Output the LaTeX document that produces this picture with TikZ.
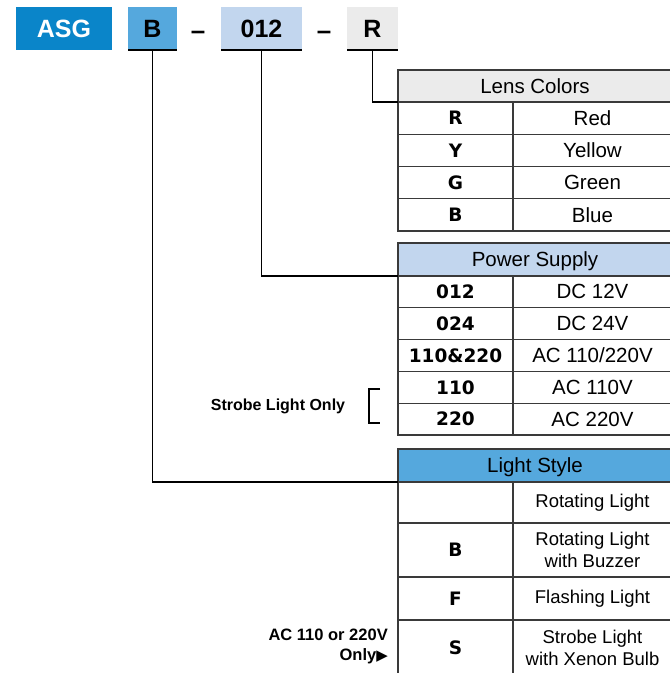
\documentclass[tikz,border=0pt]{standalone}
\usepackage{fontspec}
\setmainfont{Liberation Sans}
\newfontfamily\codefont{DejaVu Sans}
\newfontfamily\symfont{DejaVu Sans}
\definecolor{asgblue}{HTML}{0A85C9}
\definecolor{midblue}{HTML}{55A8DD}
\definecolor{paleblue}{HTML}{C2D6EE}
\definecolor{palegray}{HTML}{EBEBEB}
\definecolor{gridgray}{HTML}{3A3A3A}
\newcommand\fs[1]{\fontsize{#1pt}{\dimexpr #1pt*23/20\relax}\selectfont}
\tikzset{
  hbox/.style={rectangle, inner sep=0pt, outer sep=0pt, anchor=north west, font=\fs{25}\bfseries},
  cell/.style={rectangle, draw=gridgray, line width=1.2pt, inner sep=0pt, outer sep=0pt, anchor=north west, align=center},
  hdr/.style={cell, font=\fs{20.5}, text depth=0pt},
  code/.style={cell, font=\codefont\bfseries\fs{18.5}},
  desc/.style={cell, font=\fs{20.5}},
  ldesc/.style={cell, font=\fs{18.5}, align=center},
  conn/.style={draw=black, line width=1.5pt},
  uline/.style={draw=black, line width=2.2pt},
  note/.style={font=\bfseries\fs{16}, inner sep=0pt},
  dashsym/.style={font=\fs{26}\bfseries, inner sep=0pt, anchor=base}
}
\begin{document}
\begin{tikzpicture}[x=1pt,y=-1pt]
\useasboundingbox (0,0) rectangle (670,673);
\clip (0,0) rectangle (670,673);
\fill[white] (0,0) rectangle (670,673);
% header code boxes
\node[hbox, fill=asgblue, text=white, minimum width=96pt, minimum height=43pt] (asg) at (16,7) {ASG};
\node[hbox, fill=midblue, minimum width=49pt, minimum height=43pt] (bB) at (128,7) {B};
\node[hbox, fill=paleblue, minimum width=81pt, minimum height=43pt] (b012) at (221,7) {012};
\node[hbox, fill=palegray, minimum width=51pt, minimum height=43pt] (bR) at (347,7) {R};
\node[dashsym] (d1) at (198,39) {–};
\node[dashsym] (d2) at (324,39) {–};
\path[uline] (bB.south west) -- (bB.south east);
\path[uline] (b012.south west) -- (b012.south east);
\path[uline] (bR.south west) -- (bR.south east);
% Lens Colors table
\node[hdr, fill=palegray, minimum width=274pt, minimum height=32pt] (lcH) at (398,70) {Lens Colors};
\node[code, minimum width=115pt, minimum height=32.25pt] (lcR) at (398,102) {R};
\node[desc, minimum width=159pt, minimum height=32.25pt] (lcRd) at (513,102) {Red};
\node[code, minimum width=115pt, minimum height=32.25pt] (lcY) at (398,134.25) {Y};
\node[desc, minimum width=159pt, minimum height=32.25pt] (lcYd) at (513,134.25) {Yellow};
\node[code, minimum width=115pt, minimum height=32.25pt] (lcG) at (398,166.5) {G};
\node[desc, minimum width=159pt, minimum height=32.25pt] (lcGd) at (513,166.5) {Green};
\node[code, minimum width=115pt, minimum height=32.25pt] (lcB) at (398,198.75) {B};
\node[desc, minimum width=159pt, minimum height=32.25pt] (lcBd) at (513,198.75) {Blue};
% Power Supply table
\node[hdr, fill=paleblue, minimum width=274pt, minimum height=33pt] (psH) at (398,243) {Power Supply};
\node[code, minimum width=115pt, minimum height=31.8pt] (ps1) at (398,276) {012};
\node[desc, minimum width=159pt, minimum height=31.8pt] (ps1d) at (513,276) {DC 12V};
\node[code, minimum width=115pt, minimum height=31.8pt] (ps2) at (398,307.8) {024};
\node[desc, minimum width=159pt, minimum height=31.8pt] (ps2d) at (513,307.8) {DC 24V};
\node[code, minimum width=115pt, minimum height=31.8pt] (ps3) at (398,339.6) {110\&220};
\node[desc, minimum width=159pt, minimum height=31.8pt] (ps3d) at (513,339.6) {AC 110/220V};
\node[code, minimum width=115pt, minimum height=31.8pt] (ps4) at (398,371.4) {110};
\node[desc, minimum width=159pt, minimum height=31.8pt] (ps4d) at (513,371.4) {AC 110V};
\node[code, minimum width=115pt, minimum height=31.8pt] (ps5) at (398,403.2) {220};
\node[desc, minimum width=159pt, minimum height=31.8pt] (ps5d) at (513,403.2) {AC 220V};
% Light Style table
\node[hdr, fill=midblue, minimum width=274pt, minimum height=33pt] (lsH) at (398,449) {Light Style};
\node[code, minimum width=115pt, minimum height=41pt] (ls1) at (398,482) {};
\node[ldesc, minimum width=159pt, minimum height=41pt] (ls1d) at (513,482) {Rotating Light};
\node[code, minimum width=115pt, minimum height=54pt] (ls2) at (398,523) {B};
\node[ldesc, minimum width=159pt, minimum height=54pt] (ls2d) at (513,523) {Rotating Light\\with Buzzer};
\node[code, minimum width=115pt, minimum height=43pt] (ls3) at (398,577) {F};
\node[ldesc, minimum width=159pt, minimum height=43pt] (ls3d) at (513,577) {Flashing Light};
\node[code, minimum width=115pt, minimum height=56pt] (ls4) at (398,620) {S};
\node[ldesc, minimum width=159pt, minimum height=56pt] (ls4d) at (513,620) {Strobe Light\\with Xenon Bulb};
% connectors
\path[conn] (bR.south) |- (lcH.south west);
\path[conn] (b012.south) |- (psH.south west);
\path[conn] (bB.south) |- (lsH.south west);
% notes
\node[note] (strobe) at (278,406) {Strobe Light Only};
\coordinate (brT) at (380,389);
\coordinate (brB) at (380,423);
\draw[line width=1.5pt] (brT) -- ++(-11,0) |- (brB);
\node[note, anchor=east, align=right, font=\bfseries\fontsize{16.5pt}{20pt}\selectfont] (acnote) at (388,646) {AC 110 or 220V\\Only{\symfont\fontsize{15pt}{20pt}\selectfont ▶}};
\end{tikzpicture}
\end{document}
